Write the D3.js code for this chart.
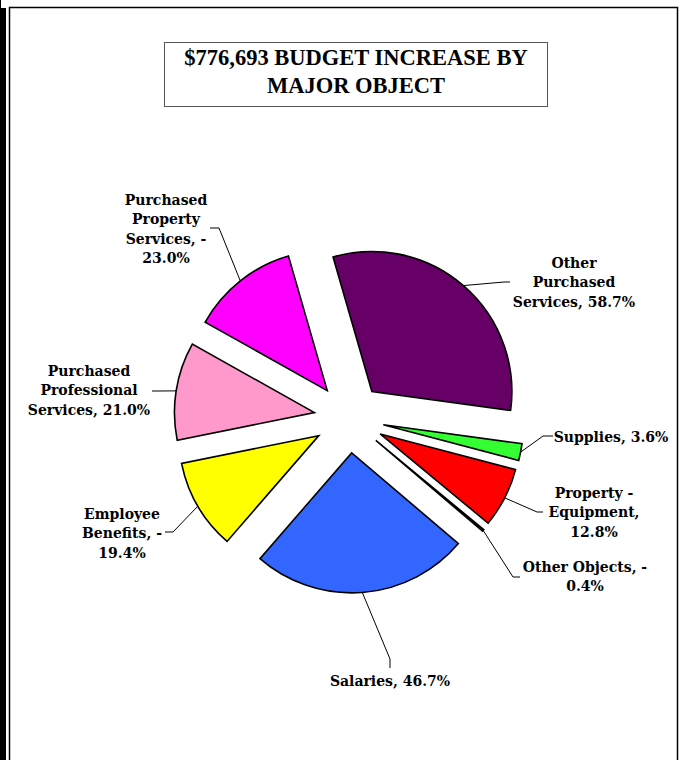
<!DOCTYPE html>
<html><head><meta charset="utf-8">
<script src="https://cdn.jsdelivr.net/npm/d3@7"></script>
<style>
html,body{margin:0;padding:0;background:#fff;}
svg{display:block;}
</style></head>
<body>
<svg id="chart" width="680" height="760"></svg>
<script>
// ---- data ----
const title = ["$776,693 BUDGET INCREASE BY", "MAJOR OBJECT"];
const categories = ["Other Purchased Services", "Supplies", "Property - Equipment", "Other Objects",
  "Salaries", "Employee Benefits", "Purchased Professional Services", "Purchased Property Services"];
const values = [58.7, 3.6, 12.8, -0.4, 46.7, -19.4, 21.0, -23.0];
const labelLines = [
  ["Other", "Purchased", "Services, 58.7%"],
  ["Supplies, 3.6%"],
  ["Property -", "Equipment,", "12.8%"],
  ["Other Objects, -", "0.4%"],
  ["Salaries, 46.7%"],
  ["Employee", "Benefits, -", "19.4%"],
  ["Purchased", "Professional", "Services, 21.0%"],
  ["Purchased", "Property", "Services, -", "23.0%"]
];
const colors = ["#660066", "#33ff33", "#ff0000", "#003300", "#3366ff", "#ffff00", "#ff99cc", "#ff00ff"];

// ---- layout ----
const cx = 349, cy = 418, R = 140, explode = 35;
const startDeg = -16.1;
// label block: text center x, first baseline y, elbow point, end point
const labelLayout = [
  {x: 574, y: 268, elbow: [504, 282], end: [510, 282]},
  {x: 611, y: 442, elbow: [543, 436], end: [553, 436]},
  {x: 594, y: 498, elbow: [537, 512], end: [543, 512]},
  {x: 585, y: 572, elbow: [513, 577], end: [520, 577]},
  {x: 390, y: 686, elbow: [390, 659], end: [390, 668]},
  {x: 122, y: 519, elbow: [173, 532], end: [165, 532]},
  {x: 89,  y: 376, elbow: [158, 391], end: [152, 391]},
  {x: 166, y: 205, elbow: [219, 228], end: [210, 228]}
];

const svg = d3.select("#chart");

// frame
svg.append("line").attr("x1",0.5).attr("y1",0).attr("x2",0.5).attr("y2",760).attr("stroke","#000").attr("stroke-width",1);
svg.append("rect").attr("x",1).attr("y",8).attr("width",5).attr("height",752).attr("fill","#000");
svg.append("path").attr("d","M9.5,760 V7.5 H677.5 V760").attr("fill","none").attr("stroke","#000").attr("stroke-width",1.5);

// title
svg.append("rect").attr("x",164.5).attr("y",42.5).attr("width",383).attr("height",64)
  .attr("fill","#fff").attr("stroke","#555").attr("stroke-width",1);
svg.append("g").selectAll("text").data(title).join("text")
  .attr("x",356).attr("y",(d,i)=>65 + i*28)
  .attr("text-anchor","middle")
  .attr("font-family","'Liberation Serif','Times New Roman',serif")
  .attr("font-weight","bold").attr("font-size",22.5).attr("fill","#000")
  .text(d=>d);

// pie
const data = categories.map((c,i)=>({cat:c, value:values[i], color:colors[i], lines:labelLines[i], lay:labelLayout[i]}));
const pie = d3.pie().value(d=>Math.abs(d.value)).sort(null)
  .startAngle(startDeg*Math.PI/180).endAngle(startDeg*Math.PI/180 + 2*Math.PI);
const arcs = pie(data);
const arc = d3.arc().innerRadius(0).outerRadius(R);

const g = svg.append("g").attr("transform",`translate(${cx},${cy})`);
arcs.forEach(a=>{
  const mid = (a.startAngle + a.endAngle)/2;
  a.dx = explode*Math.sin(mid); a.dy = -explode*Math.cos(mid); a.mid = mid;
});
g.selectAll("path.slice").data(arcs).join("path")
  .attr("class","slice")
  .attr("transform",d=>`translate(${d.dx},${d.dy})`)
  .attr("d",arc)
  .attr("fill",d=>d.data.color)
  .attr("stroke","#000").attr("stroke-width",1.6).attr("stroke-linejoin","miter");

// leader lines
svg.append("g").selectAll("polyline").data(arcs).join("polyline")
  .attr("points",d=>{
    const sx = cx + d.dx + R*Math.sin(d.mid), sy = cy + d.dy - R*Math.cos(d.mid);
    const L = d.data.lay;
    return [[sx,sy], L.elbow, L.end].map(p=>p.join(",")).join(" ");
  })
  .attr("fill","none").attr("stroke","#000").attr("stroke-width",1);

// labels
const lab = svg.append("g").selectAll("text").data(arcs).join("text")
  .attr("text-anchor","middle")
  .attr("font-family","'DejaVu Serif',serif")
  .attr("font-weight","bold").attr("font-size",14).attr("fill","#000");
lab.each(function(d){
  const t = d3.select(this);
  d.data.lines.forEach((ln,i)=>{
    t.append("tspan").attr("x",d.data.lay.x).attr("y",d.data.lay.y + i*19.3).text(ln);
  });
});
</script>
</body></html>
